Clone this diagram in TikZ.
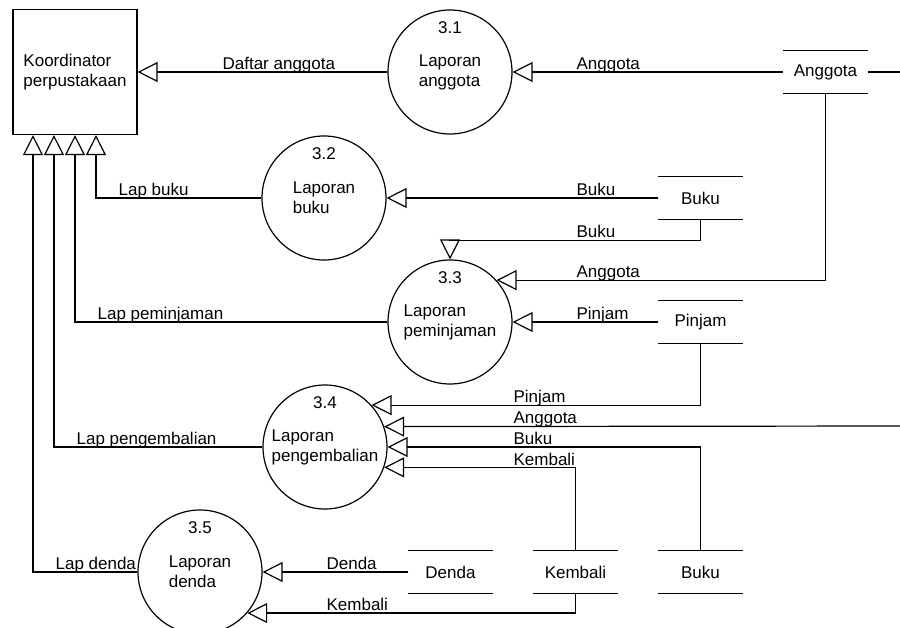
\documentclass[tikz,border=0pt]{standalone}
\usepackage{fontspec}
\setmainfont{Liberation Sans}
\usetikzlibrary{arrows.meta}

\begin{document}
\begin{tikzpicture}[x=1pt, y=-1pt, line width=1.2pt,
            font=\fontsize{17}{20}\selectfont,
            proc/.style={circle, draw, minimum size=124pt, inner sep=0pt, align=left},
            ent/.style={rectangle, draw, minimum width=124pt, minimum height=125pt, align=left},
            store/.style={minimum width=83pt, minimum height=42pt, inner sep=0pt},
            num/.style={anchor=center, yshift=-18pt},
            lbl/.style={anchor=base west, inner sep=0pt, yshift=2.5pt},
            flow/.style={-{Triangle[open, length=20pt, width=20pt]}}]
            \useasboundingbox (0, 0) rectangle (900, 628);
            \node[ent] (koord) at (75, 72) {Koordinator\\perpustakaan};
            \node[proc, label={[num]north:3.1}] (p31) at (450, 72) {Laporan\\anggota};
            \node[proc, label={[num]north:3.2}] (p32) at (324, 198) {Laporan\\buku};
            \node[proc, label={[num]north:3.3}] (p33) at (450, 322) {Laporan\\peminjaman};
            \node[proc, label={[num]north:3.4}] (p34) at (325, 447) {Laporan\\pengembalian};
            \node[proc, label={[num]north:3.5}] (p35) at (200, 572) {Laporan\\denda};
            \node[store] (anggota) at (825.5, 72) {Anggota};
            \node[store] (buku1) at (700.5, 198) {Buku};
            \node[store] (pinjam) at (700.5, 322) {Pinjam};
            \node[store] (denda) at (450.5, 572) {Denda};
            \node[store] (kembali) at (575.5, 572) {Kembali};
            \node[store] (buku2) at (700.5, 572) {Buku};
            \foreach \s in {anggota, buku1, pinjam, denda, kembali, buku2}
                \draw (\s.north west) -- (\s.north east) (\s.south west) -- (\s.south east);
            \coordinate (edgeA) at (900, 72);
            \coordinate (edgeB) at (900, 426);
            \draw[flow] (p31.west) -- (koord.east);
            \draw[flow] (anggota.west) -- (p31.east);
            \draw (anggota.east) -- (edgeA);
            \draw[flow] (buku1.west) -- (p32.east);
            \draw[flow] (buku1.south) -- ++(0, 21) -| (p33.north);
            \draw[flow] (anggota.south) |- (p33.42.6);
            \draw[flow] (pinjam.west) -- (p33.east);
            \draw[flow] (pinjam.south) |- (p34.42.6);
            \draw[flow] (edgeB) -- (p34.19.8);
            \draw[flow] (buku2.north) |- (p34.east);
            \draw[flow] (kembali.north) |- (p34.-19.8);
            \draw[flow] (denda.west) -- (p35.east);
            \draw[flow] (kembali.south) |- (p35.-41.4);
            \draw[flow] (p35.west) -| ([xshift=-42pt]koord.south);
            \draw[flow] (p34.west) -| ([xshift=-21pt]koord.south);
            \draw[flow] (p33.west) -| (koord.south);
            \draw[flow] (p32.west) -| ([xshift=21pt]koord.south);
            \node[lbl] (lDaftar) at (222, 72) {Daftar anggota};
            \node[lbl] (lAgt1) at (576, 72) {Anggota};
            \node[lbl] (lLapBuku) at (118, 198) {Lap buku};
            \node[lbl] (lBuku1) at (576, 198) {Buku};
            \node[lbl] (lBuku2) at (576, 240) {Buku};
            \node[lbl] (lAgt2) at (576, 280) {Anggota};
            \node[lbl] (lLapPinjam) at (97, 322) {Lap peminjaman};
            \node[lbl] (lPinjam1) at (576, 322) {Pinjam};
            \node[lbl] (lPinjam2) at (513, 405) {Pinjam};
            \node[lbl] (lAgt3) at (513, 426) {Anggota};
            \node[lbl] (lLapKembali) at (76, 447) {Lap pengembalian};
            \node[lbl] (lBuku3) at (513, 447) {Buku};
            \node[lbl] (lKembali1) at (513, 468) {Kembali};
            \node[lbl] (lLapDenda) at (55, 572) {Lap denda};
            \node[lbl] (lDenda) at (326, 572) {Denda};
            \node[lbl] (lKembali2) at (326, 613) {Kembali};
\end{tikzpicture}
\end{document}
